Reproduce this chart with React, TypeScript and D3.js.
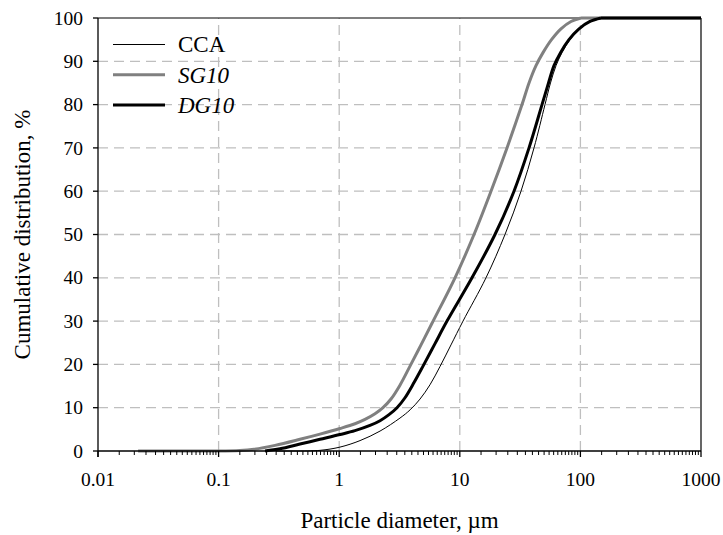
import React from 'react';
import * as d3 from 'd3';

// particle diameter (um) vs cumulative distribution (%)
const ccaSize = [0.3, 0.473, 0.693, 1.015, 1.488, 2.18, 3.19, 3.87, 4.68, 5.66, 6.85, 8.45, 10.63, 16.49, 23.7, 32.18, 41.24, 50.87, 56.5, 62.8, 70.4, 82.0, 99.2, 122.4, 157, 300, 1000];
const ccaPct = [0, 0, 0.15, 0.9, 2.4, 4.6, 7.6, 9.5, 12.0, 15.3, 19.5, 24.5, 30, 40, 50, 60, 70, 80, 85, 89, 92, 95, 97.5, 99.2, 100, 100, 100];

const sgSize = [0.0215, 0.1, 0.15, 0.197, 0.294, 0.473, 0.693, 1.015, 1.352, 1.637, 1.981, 2.308, 2.689, 3.191, 3.865, 4.768, 5.883, 9.125, 13.12, 18.14, 24.62, 32.8, 37.49, 42.83, 48.97, 57.6, 69.0, 83.6, 101.2, 250, 1000];
const sgPct = [0, 0, 0.1, 0.4, 1.3, 2.7, 3.9, 5.2, 6.3, 7.3, 8.6, 10.0, 12.0, 15.2, 19.6, 24.5, 29.5, 40, 50, 60, 70, 80, 85, 89, 92, 95, 97.5, 99.2, 100, 100, 100];

const dgSize = [0.2425, 0.323, 0.473, 0.693, 1.015, 1.352, 1.8, 2.18, 2.588, 3.015, 3.512, 4.172, 4.955, 6.229, 7.833, 12.62, 19.58, 28.14, 37.49, 48.05, 54.39, 60.4, 68.4, 80.4, 97.4, 120.1, 148.2, 300, 1000];
const dgPct = [0, 0.5, 1.6, 2.7, 3.8, 4.7, 5.9, 7.0, 8.4, 10.0, 12.3, 15.8, 19.6, 24.8, 30, 40, 50, 60, 70, 80, 85, 89, 92, 95, 97.5, 99.2, 100, 100, 100];

const xTicks = [0.01, 0.1, 1, 10, 100, 1000];
const xTickLabels = ['0.01', '0.1', '1', '10', '100', '1000'];
const minorSteps = [1.5, 2, 2.5, 3, 3.5, 4, 4.5, 5, 5.5, 6, 6.5, 7, 7.5, 8, 8.5, 9, 9.5];
const yTicks = [0, 10, 20, 30, 40, 50, 60, 70, 80, 90, 100];

const series = [
  { name: 'CCA', size: ccaSize, pct: ccaPct, color: '#000', width: 1, italic: false },
  { name: 'SG10', size: sgSize, pct: sgPct, color: '#808080', width: 3, italic: true },
  { name: 'DG10', size: dgSize, pct: dgPct, color: '#000', width: 3, italic: true },
];

const W = 723, H = 535;
const m = { left: 98, right: 22, top: 18, bottom: 84 };
const font = '"Liberation Serif", "Times New Roman", serif';

export default function App() {
  const x = d3.scaleLog().domain([0.01, 1000]).range([m.left, W - m.right]);
  const y = d3.scaleLinear().domain([0, 100]).range([H - m.bottom, m.top]);

  const smooth = d3.line<[number, number]>()
    .x(d => x(d[0]))
    .y(d => y(d[1]))
    .curve(d3.curveCatmullRom.alpha(0.5));
  const straight = d3.line<[number, number]>()
    .x(d => x(d[0]))
    .y(d => y(d[1]));

  // flat 0 / 100 runs drawn straight so the spline does not overshoot
  const pathFor = (size: number[], pct: number[]) => {
    const pts = size.map((v, i) => [v, pct[i]] as [number, number]);
    let a = 0;
    while (a + 1 < pts.length && pts[a + 1][1] === 0) a++;
    const b = pts.findIndex(p => p[1] === 100);
    return (a > 0 ? straight(pts.slice(0, a + 1)) : '') +
      smooth(pts.slice(a, b + 1)) +
      straight(pts.slice(b));
  };

  const minor: number[] = [];
  xTicks.slice(0, -1).forEach(t => minorSteps.forEach(k => minor.push(t * k)));

  const x0 = x.range()[0], x1 = x.range()[1];
  const y0 = y.range()[0], y1 = y.range()[1];

  return (
    <svg width={W} height={H} style={{ position: 'absolute', left: 0, top: 0, background: '#fff', fontFamily: font }}>
      {/* grid */}
      {yTicks.slice(1, -1).map(t => (
        <line key={'gy' + t} x1={x0} x2={x1} y1={y(t)} y2={y(t)}
          stroke="#bfbfbf" strokeWidth={1.3} strokeDasharray="10,6" />
      ))}
      {xTicks.slice(1, -1).map(t => (
        <line key={'gx' + t} x1={x(t)} x2={x(t)} y1={y0} y2={y1}
          stroke="#bfbfbf" strokeWidth={1.3} strokeDasharray="10,6" />
      ))}

      {/* frame */}
      <line x1={x0} x2={x1} y1={y1} y2={y1} stroke="#000" strokeWidth={1.2} />
      <line x1={x1} x2={x1} y1={y1} y2={y0} stroke="#000" strokeWidth={1.2} />

      {/* curves */}
      {series.map(s => (
        <path key={s.name} d={pathFor(s.size, s.pct)}
          fill="none" stroke={s.color} strokeWidth={s.width} strokeLinejoin="round" />
      ))}

      {/* axes */}
      <line x1={x0} x2={x1} y1={y0} y2={y0} stroke="#000" strokeWidth={1.3} />
      <line x1={x0} x2={x0} y1={y1} y2={y0 + 6} stroke="#000" strokeWidth={1.3} />
      {minor.map(t => (
        <line key={'mt' + t} x1={x(t)} x2={x(t)} y1={y0} y2={y0 + 4} stroke="#000" strokeWidth={1} />
      ))}
      {xTicks.map((t, i) => (
        <g key={'xt' + t}>
          <line x1={x(t)} x2={x(t)} y1={y0} y2={y0 + 6} stroke="#000" strokeWidth={1.3} />
          <text x={x(t)} y={486} textAnchor="middle" fontSize={19.5}>{xTickLabels[i]}</text>
        </g>
      ))}
      {yTicks.map(t => (
        <g key={'yt' + t}>
          <line x1={x0 - 5} x2={x0} y1={y(t)} y2={y(t)} stroke="#000" strokeWidth={1.3} />
          <text x={83} y={y(t)} dy="0.34em" textAnchor="end" fontSize={19.5}>{t}</text>
        </g>
      ))}

      {/* titles */}
      <text x={(x0 + x1) / 2} y={528} textAnchor="middle" fontSize={23}>Particle diameter, µm</text>
      <text transform={`translate(30,${(y0 + y1) / 2}) rotate(-90)`} textAnchor="middle" fontSize={23}>
        Cumulative distribution, %
      </text>

      {/* legend */}
      {series.map((s, i) => (
        <g key={'lg' + s.name} transform={`translate(113,${44.5 + i * 30.2})`}>
          <line x1={0} x2={52} y1={0} y2={0} stroke={s.color} strokeWidth={s.width} />
          <text x={65} y={0} dy="0.34em" fontSize={23} fontStyle={s.italic ? 'italic' : 'normal'}>{s.name}</text>
        </g>
      ))}
    </svg>
  );
}
